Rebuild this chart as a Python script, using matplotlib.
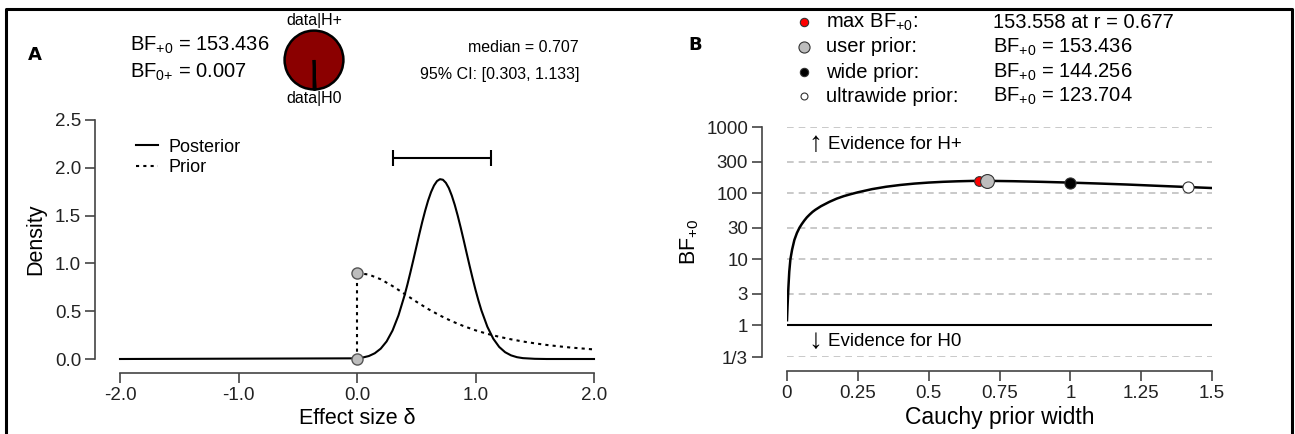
import numpy as np
import matplotlib
matplotlib.use("Agg")
import matplotlib.pyplot as plt
from matplotlib.lines import Line2D

plt.rcParams['font.family'] = ['Liberation Sans', 'DejaVu Sans']
plt.rcParams['mathtext.fontset'] = 'custom'
plt.rcParams['mathtext.rm'] = 'Liberation Sans'
plt.rcParams['mathtext.it'] = 'Liberation Sans:italic'

W, H = 1295, 434

# ---- panel A data ----
post_x = [-2.0, 0.0, 0.05, 0.10, 0.15, 0.20, 0.25, 0.30, 0.35, 0.40, 0.425,
          0.45, 0.475, 0.50, 0.525, 0.55, 0.575, 0.60, 0.625, 0.65, 0.675,
          0.70, 0.725, 0.75, 0.775, 0.80, 0.825, 0.85, 0.875, 0.90, 0.925,
          0.95, 0.975, 1.00, 1.025, 1.05, 1.10, 1.15, 1.20, 1.25, 1.30, 1.35,
          1.40, 1.50, 1.60, 2.0]
post_y = [0.0, 0.007, 0.016, 0.031, 0.060, 0.108, 0.184, 0.298, 0.456, 0.660,
          0.777, 0.903, 1.034, 1.168, 1.302, 1.431, 1.550, 1.657, 1.746, 1.815,
          1.861, 1.881, 1.875, 1.843, 1.788, 1.709, 1.612, 1.499, 1.375, 1.244,
          1.109, 0.976, 0.847, 0.724, 0.611, 0.508, 0.338, 0.212, 0.126, 0.071,
          0.038, 0.019, 0.009, 0.002, 0.0, 0.0]
prior_x = [0.0, 0.1, 0.2, 0.3, 0.4, 0.5, 0.6, 0.7, 0.8, 0.9, 1.0, 1.1, 1.2,
           1.3, 1.4, 1.5, 1.6, 1.7, 1.8, 1.9, 2.0]
prior_y = [0.900, 0.883, 0.834, 0.763, 0.682, 0.600, 0.523, 0.455, 0.395,
           0.344, 0.300, 0.263, 0.232, 0.206, 0.183, 0.164, 0.147, 0.133,
           0.120, 0.110, 0.100]
ci = [0.303, 1.133]
median = 0.707
bf10 = 153.436
bf01 = 0.007

# ---- panel B data ----
r_vals = [0.0, 0.002, 0.005, 0.008, 0.012, 0.018, 0.026, 0.035, 0.044, 0.052,
          0.061, 0.07, 0.08, 0.09, 0.10, 0.12, 0.15, 0.175, 0.20, 0.225, 0.25,
          0.30, 0.35, 0.40, 0.45, 0.50, 0.55, 0.60, 0.65, 0.677, 0.707, 0.80,
          0.90, 1.00, 1.10, 1.20, 1.30, 1.414, 1.50]
bf_vals = [1.2, 2.0, 3.8, 6.5, 10, 14, 19.6, 25, 30, 34, 38.5, 43, 47.5, 52,
           56, 63.5, 74, 82.5, 90, 96.5, 103, 115, 125, 133, 139.5, 144.5,
           148.3, 151, 152.9, 153.558, 153.436, 151.5, 148.2, 144.256, 139.8,
           135, 129.5, 123.704, 119.5]
pts_r = [0.677, 0.707, 1.0, 1.414]
pts_bf = [153.558, 153.436, 144.256, 123.704]
pts_face = ['#ff0000', '#bdbdbd', 'black', 'white']
pts_size = [7, 10, 8, 8]
pts_label = ['max BF$_{+0}$:', 'user prior:', 'wide prior:', 'ultrawide prior:']
pts_text = ['153.558 at r = 0.677', 'BF$_{+0}$ = 153.436',
            'BF$_{+0}$ = 144.256', 'BF$_{+0}$ = 123.704']
bf_ticks = [1/3, 1, 3, 10, 30, 100, 300, 1000]
bf_tick_labels = ['1/3', '1', '3', '10', '30', '100', '300', '1000']

TICK = 13.5
LAB = 15.5


def px(x0, y0, x1, y1):
    return [x0 / W, 1 - y1 / H, (x1 - x0) / W, (y1 - y0) / H]


def ftext(x, y, s, **kw):
    fig.text(x / W, 1 - y / H, s, **kw)


def r_style(ax):
    for s in ['top', 'right']:
        ax.spines[s].set_visible(False)
    ax.spines['left'].set_position(('outward', 18))
    ax.spines['bottom'].set_position(('outward', 10))
    for s in ['left', 'bottom']:
        ax.spines[s].set_color('#444444')
        ax.spines[s].set_linewidth(1.2)
    ax.tick_params(length=7, width=1.2, color='#444444', labelsize=TICK,
                   labelcolor='#222222', pad=3)
    ax.patch.set_alpha(0)


fig = plt.figure(figsize=(W / 100, H / 100), dpi=100)

# outer frame
fig.add_artist(Line2D([6 / W, 6 / W, 1292 / W, 1292 / W],
                      [0, 1 - 9 / H, 1 - 9 / H, 0], color='black', lw=2.2))

# ================= panel A =================
ax = fig.add_axes(px(120, 120, 594, 359))
r_style(ax)
ax.set_xlim(-2, 2)
ax.set_ylim(0, 2.5)
ax.spines['left'].set_bounds(0, 2.5)
ax.spines['bottom'].set_bounds(-2, 2)
ax.set_xticks([-2, -1, 0, 1, 2])
ax.set_xticklabels(['-2.0', '-1.0', '0.0', '1.0', '2.0'])
ax.set_yticks([0, 0.5, 1, 1.5, 2, 2.5])
ax.set_yticklabels(['0.0', '0.5', '1.0', '1.5', '2.0', '2.5'])
ax.set_xlabel('Effect size δ', fontsize=LAB, labelpad=3)
ax.set_ylabel('Density', fontsize=LAB, labelpad=6)

ax.plot(post_x, post_y, color='black', lw=1.5, clip_on=False)
ax.plot(prior_x, prior_y, color='black', lw=1.5, ls=(0, (1.5, 2)), clip_on=False)
ax.plot([0, 0], [0, prior_y[0]], color='black', lw=1.5, ls=(0, (1.5, 2)))
ax.plot([0, 0], [prior_y[0], 0], 'o', ms=8, mfc='#bdbdbd', mec='#555555',
        clip_on=False, zorder=5)
ax.errorbar([median], [2.1], xerr=[[median - ci[0]], [ci[1] - median]],
            fmt='none', ecolor='black', elinewidth=1.5, capsize=6, capthick=1.5)

handles = [Line2D([], [], color='black', lw=1.5),
           Line2D([], [], color='black', lw=1.5, ls=(0, (1.5, 2)))]
ax.legend(handles, ['Posterior', 'Prior'], loc='upper left',
          bbox_to_anchor=(0.0, 0.99), frameon=False, fontsize=13,
          handlelength=1.2, handletextpad=0.6, labelspacing=0.2)

ftext(28, 55, 'A', fontsize=13, fontweight='bold', va='center',
      family=['DejaVu Sans'])
ftext(130, 45, 'BF$_{+0}$ = %.3f' % bf10, fontsize=14.5, va='center')
ftext(130, 72, r'BF$_{0\text{+}}$ = %.3f' % bf01, fontsize=14.5, va='center')
ftext(579, 47, 'median = %.3f' % median, fontsize=11.5, va='center', ha='right')
ftext(580, 74, '95%% CI: [%.3f, %.3f]' % (ci[0], ci[1]), fontsize=11.5,
      va='center', ha='right')

pie_ax = fig.add_axes(px(284, 30, 344, 90))
pie_ax.pie([bf10, 1], colors=['#8b0000', 'white'], startangle=-90,
           counterclock=False,
           wedgeprops=dict(edgecolor='black', linewidth=1.8))
pie_ax.set_xlim(-1.02, 1.02)
pie_ax.set_ylim(-1.02, 1.02)
pie_ax.set_aspect('auto')
ftext(314, 21, 'data|H+', fontsize=11.5, ha='center', va='center')
ftext(314, 99, 'data|H0', fontsize=11.5, ha='center', va='center')

# ================= panel B =================
bx = fig.add_axes(px(787, 127, 1212, 357))
r_style(bx)
bx.set_yscale('log')
bx.set_xlim(0, 1.5)
bx.set_ylim(1 / 3, 1000)
bx.spines['left'].set_bounds(1 / 3, 1000)
bx.spines['bottom'].set_bounds(0, 1.5)
bx.set_xticks([0, 0.25, 0.5, 0.75, 1, 1.25, 1.5])
bx.set_xticklabels(['0', '0.25', '0.5', '0.75', '1', '1.25', '1.5'])
bx.set_yticks(bf_ticks)
bx.set_yticklabels(bf_tick_labels)
bx.minorticks_off()
bx.set_xlabel('Cauchy prior width', fontsize=LAB + 1, labelpad=3)
bx.set_ylabel('BF$_{+0}$', fontsize=LAB, labelpad=4)

for t in bf_ticks:
    if t == 1:
        bx.plot([0, 1.5], [t, t], color='black', lw=1.5)
    else:
        bx.plot([0, 1.5], [t, t], color='#c0c0c0', lw=1.2, ls=(0, (4, 3)))
bx.plot(r_vals, bf_vals, color='black', lw=1.8)
for rr, bb, fc, ms in zip(pts_r, pts_bf, pts_face, pts_size):
    bx.plot([rr], [bb], 'o', ms=ms, mfc=fc, mec='#333333', mew=0.8, zorder=5)

bx.text(0.1, 550, '↑', fontsize=20, va='center', ha='center')
bx.text(0.143, 550, 'Evidence for H+', fontsize=13.5, va='center')
bx.text(0.1, 0.58, '↓', fontsize=20, va='center', ha='center')
bx.text(0.143, 0.58, 'Evidence for H0', fontsize=13.5, va='center')

ftext(688, 45, 'B', fontsize=13, fontweight='bold', va='center',
      family=['DejaVu Sans'])
rows_y = [22, 47, 72, 96]
for yy, fc, ms, lab, txt in zip(rows_y, pts_face, [6, 8, 6, 5], pts_label, pts_text):
    fig.add_artist(Line2D([804 / W], [1 - yy / H], marker='o', ms=ms, mfc=fc,
                          mec='#333333', mew=0.8, ls='none'))
    ftext(826, yy, lab, fontsize=14.5, va='center')
    ftext(993, yy, txt, fontsize=14.5, va='center')

fig.savefig('out.png', dpi=100)
